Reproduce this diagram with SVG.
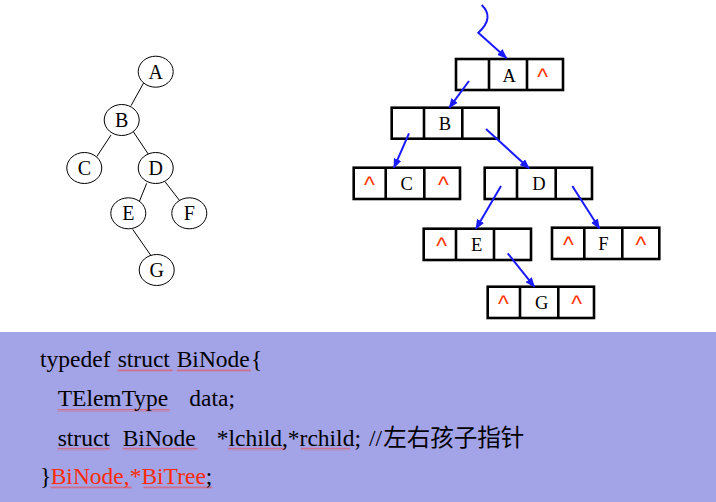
<svg xmlns="http://www.w3.org/2000/svg" width="716" height="502" viewBox="0 0 716 502">
<style>
.el{fill:#fff;stroke:#000;stroke-width:1}
.tl{stroke:#000;stroke-width:1;fill:none}
.tt{font-family:"Liberation Serif","Times New Roman",serif;font-size:20px;text-anchor:middle;fill:#000}
.box{fill:#fff;stroke:#000;stroke-width:2.6}
.div{stroke:#000;stroke-width:2.6}
.bt{font-family:"Liberation Serif","Times New Roman",serif;font-size:18.5px;text-anchor:middle;fill:#000}
.ca{font-family:"Liberation Sans",Arial,sans-serif;font-size:23px;text-anchor:middle;fill:#ff3300}
.ar{stroke:#1a1aff;stroke-width:2;fill:none}
.code{font-family:"Liberation Serif","Times New Roman",serif;font-size:23.5px;fill:#000}
.cjk{font-family:"Noto Sans CJK SC","Noto Sans",sans-serif;font-size:23.5px;fill:#000}
.red{fill:#ff2a00}
.wv{fill:url(#wave)}
</style>
<defs>
<marker id="ah" markerWidth="10" markerHeight="8" refX="9" refY="4" orient="auto" markerUnits="userSpaceOnUse">
<path d="M0,0 L10,4 L0,8 Z" fill="#1a1aff"/>
</marker>
<pattern id="wave" width="4" height="3" patternUnits="userSpaceOnUse">
<path d="M0,2.5 L1,0.5 L2,2.5 L3,0.5 L4,2.5" stroke="#e85050" stroke-width="0.6" fill="none"/>
</pattern>
</defs>
<rect width="716" height="502" fill="#fff"/>

<!-- Tree -->
<g id="tree-edges">
<line class="tl" x1="144.3" y1="81.7" x2="131" y2="105.7"/>
<line class="tl" x1="111" y1="135" x2="96.7" y2="156.7"/>
<line class="tl" x1="133.3" y1="131.7" x2="150" y2="156.7"/>
<line class="tl" x1="146.7" y1="183.3" x2="138.3" y2="204"/>
<line class="tl" x1="165" y1="181.7" x2="181.7" y2="203.3"/>
<line class="tl" x1="132.7" y1="229.3" x2="151.7" y2="256.7"/>
</g>
<g id="tA"><ellipse class="el" cx="155.7" cy="71.7" rx="17.5" ry="15.5"/><text class="tt" x="155.7" y="78.5">A</text></g>
<g id="tB"><ellipse class="el" cx="121.7" cy="120" rx="17.5" ry="15.5"/><text class="tt" x="121.7" y="126.5">B</text></g>
<g id="tC"><ellipse class="el" cx="84.3" cy="168" rx="17.5" ry="15.5"/><text class="tt" x="84.3" y="175">C</text></g>
<g id="tD"><ellipse class="el" cx="155.7" cy="168" rx="17.5" ry="15.5"/><text class="tt" x="155.7" y="175">D</text></g>
<g id="tE"><ellipse class="el" cx="128.3" cy="213.3" rx="17.5" ry="15.5"/><text class="tt" x="128.3" y="220">E</text></g>
<g id="tF"><ellipse class="el" cx="189.3" cy="213.3" rx="17.5" ry="15.5"/><text class="tt" x="189.3" y="220">F</text></g>
<g id="tG"><ellipse class="el" cx="156.7" cy="270" rx="17.5" ry="15.5"/><text class="tt" x="156.7" y="276.5">G</text></g>

<!-- Linked nodes -->
<g id="nA">
<rect class="box" x="456" y="59" width="107" height="31"/>
<line class="div" x1="489" y1="59" x2="489" y2="90"/><line class="div" x1="527" y1="59" x2="527" y2="90"/>
<text class="bt" x="509.3" y="81.7">A</text><text class="ca" x="542.7" y="84.5">^</text>
</g>
<g id="nB">
<rect class="box" x="391.7" y="107.7" width="107" height="31"/>
<line class="div" x1="424" y1="107.7" x2="424" y2="138.7"/><line class="div" x1="462.3" y1="107.7" x2="462.3" y2="138.7"/>
<text class="bt" x="445" y="130.4">B</text>
</g>
<g id="nC">
<rect class="box" x="353.7" y="167.7" width="106.3" height="31.3"/>
<line class="div" x1="385.7" y1="167.7" x2="385.7" y2="199"/><line class="div" x1="424.3" y1="167.7" x2="424.3" y2="199"/>
<text class="ca" x="369.3" y="193.2">^</text><text class="bt" x="406.7" y="190.4">C</text><text class="ca" x="443.3" y="193.2">^</text>
</g>
<g id="nD">
<rect class="box" x="484.7" y="167.7" width="107.3" height="31.3"/>
<line class="div" x1="517" y1="167.7" x2="517" y2="199"/><line class="div" x1="555.7" y1="167.7" x2="555.7" y2="199"/>
<text class="bt" x="539" y="190.4">D</text>
</g>
<g id="nE">
<rect class="box" x="423.7" y="228.7" width="107.3" height="31.3"/>
<line class="div" x1="456" y1="228.7" x2="456" y2="260"/><line class="div" x1="494" y1="228.7" x2="494" y2="260"/>
<text class="ca" x="441.7" y="254.2">^</text><text class="bt" x="476.7" y="251.4">E</text>
</g>
<g id="nF">
<rect class="box" x="552" y="227.7" width="107.3" height="31.3"/>
<line class="div" x1="584.3" y1="227.7" x2="584.3" y2="259"/><line class="div" x1="622.3" y1="227.7" x2="622.3" y2="259"/>
<text class="ca" x="568.3" y="253.2">^</text><text class="bt" x="603.3" y="250.4">F</text><text class="ca" x="641" y="253.2">^</text>
</g>
<g id="nG">
<rect class="box" x="487.7" y="286.7" width="106.3" height="31.3"/>
<line class="div" x1="520" y1="286.7" x2="520" y2="318"/><line class="div" x1="558.3" y1="286.7" x2="558.3" y2="318"/>
<text class="ca" x="503.3" y="312.2">^</text><text class="bt" x="541.7" y="309.4">G</text><text class="ca" x="576.7" y="312.2">^</text>
</g>

<g id="connectors">
<path class="ar" d="M481.7,5 C490,13 490,22 478.3,32.7 L506.5,58" marker-end="url(#ah)"/>
<line class="ar" x1="469" y1="81" x2="449.3" y2="107.7" marker-end="url(#ah)"/>
<line class="ar" x1="409" y1="133.3" x2="394" y2="167.7" marker-end="url(#ah)"/>
<line class="ar" x1="486" y1="129" x2="529" y2="168.3" marker-end="url(#ah)"/>
<line class="ar" x1="501" y1="186" x2="476" y2="228.7" marker-end="url(#ah)"/>
<line class="ar" x1="572.3" y1="186" x2="599.3" y2="228.3" marker-end="url(#ah)"/>
<line class="ar" x1="507.7" y1="253.3" x2="534.3" y2="286.7" marker-end="url(#ah)"/>
</g>

<!-- Code panel -->
<g id="code">
<rect x="0" y="332" width="716" height="170" fill="#a3a3e8"/>
<rect class="wv" x="117.7" y="369" width="55" height="3"/>
<rect class="wv" x="176.7" y="369" width="74" height="3"/>
<rect class="wv" x="57.7" y="409" width="112" height="3"/>
<rect class="wv" x="57.7" y="447.5" width="52" height="3"/>
<rect class="wv" x="122.7" y="447.5" width="75" height="3"/>
<rect class="wv" x="228" y="447.5" width="58" height="3"/>
<rect class="wv" x="301" y="447.5" width="49" height="3"/>
<rect class="wv" x="50.7" y="486" width="81" height="3"/>
<rect class="wv" x="143.3" y="486" width="69" height="3"/>
<text class="code" y="366.5"><tspan x="40">typedef</tspan><tspan x="117.7">struct</tspan><tspan x="176.7">BiNode</tspan><tspan x="251">{</tspan></text>
<text class="code" y="406"><tspan x="57.7">TElemType</tspan><tspan x="189.3">data;</tspan></text>
<text class="code" y="445.5"><tspan x="57.7">struct</tspan><tspan x="122.7">BiNode</tspan><tspan x="216.7">*lchild,*rchild;</tspan><tspan x="369">//</tspan><tspan class="cjk" x="383.3">左右孩子指针</tspan></text>
<text class="code" y="484"><tspan x="40">}</tspan><tspan class="red" x="50.7">BiNode,*BiTree</tspan><tspan>;</tspan></text>
</g>
</svg>
